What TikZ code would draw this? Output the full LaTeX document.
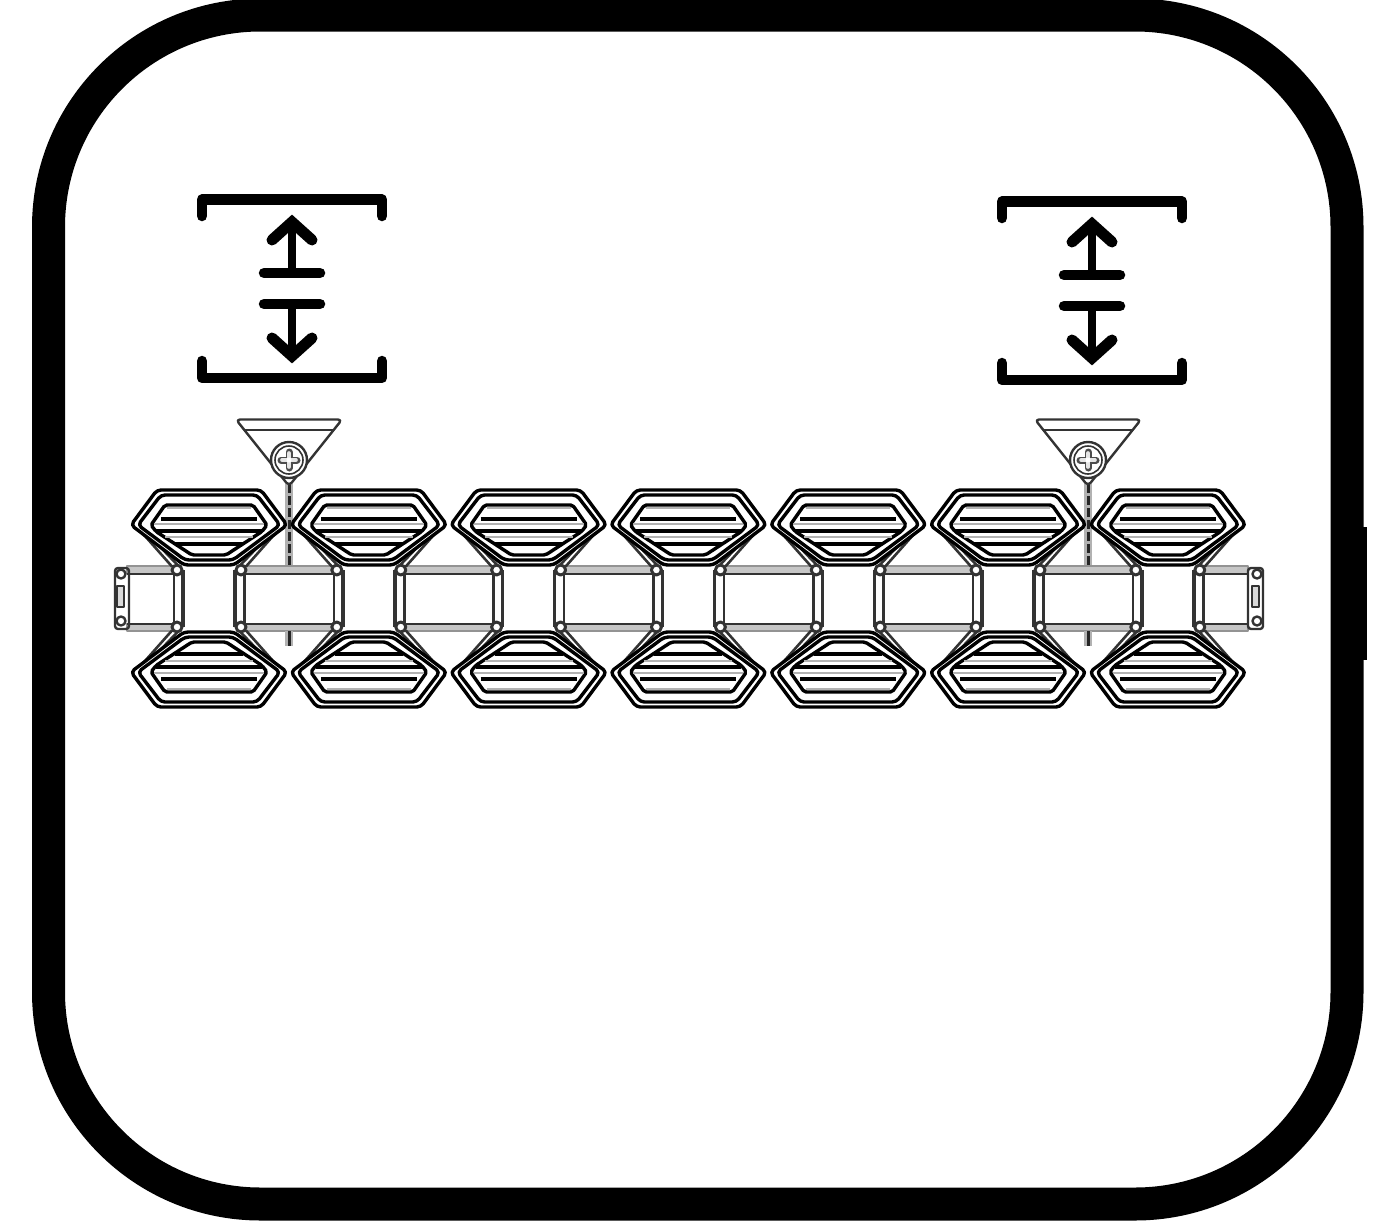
\documentclass[tikz,border=0pt]{standalone}
\begin{document}
\begin{tikzpicture}[
    x=0.02cm, y=-0.02cm,
    line join=round,
    % Styles
    frame/.style={line width=33*0.02cm, black},
    symbol/.style={line width=10.5*0.02cm, line cap=round, black},
    stem/.style={line width=8*0.02cm, line cap=round, black},
    chevron/.style={line width=11*0.02cm, line cap=round, line join=miter, black},
    contour/.style={line width=3.4*0.02cm, black, rounded corners=4*0.02cm},
    slat/.style={line width=4*0.02cm, black},
    thinslat/.style={line width=2*0.02cm, gray!60},
    link/.style={line width=2.6*0.02cm, black!80},
    railband/.style={fill=gray!45, draw=gray!85, line width=1.6*0.02cm},
    hardware/.style={line width=2.4*0.02cm, black!80}
]
\useasboundingbox (0,0) rectangle (1396,1224);

% --- OUTER FRAME ---
\draw[frame, rounded corners=212*0.02cm] (48.5,15) rectangle (1347,1204);
\fill[black] (1355,527) rectangle (1366.5,660);

% --- HEIGHT SYMBOLS ---
\foreach \symx/\symy in {292/0, 1092/2} {
\begin{scope}[shift={(\symx,\symy)}]
    % Brackets
    \draw[symbol] (-90,216) -- (-90,199.5) -- (90,199.5) -- (90,216);
    \draw[symbol] (-90,361) -- (-90,378) -- (90,378) -- (90,361);
    % Bars
    \draw[symbol] (-28,273) -- (28,273);
    \draw[symbol] (-28,304) -- (28,304);
    % Arrows
    \draw[stem] (0,273) -- (0,228);
    \draw[chevron] (-20,240) -- (0,222) -- (20,240);
    \draw[stem] (0,304) -- (0,350);
    \draw[chevron] (-20,338) -- (0,356) -- (20,338);
\end{scope}
}

% --- RAIL ---
\foreach \cx in {209,368.8,528.6,688.4,848.2,1008} {
\begin{scope}[shift={(\cx,598.5)}]
    \draw[railband] (36,-32.5) rectangle (124.8,-25);
    \draw[railband] (36,25) rectangle (124.8,32.5);
    \draw[link, line width=2*0.02cm] (36,-25) -- (124.8,-25);
    \draw[link, line width=2*0.02cm] (36,25) -- (124.8,25);
\end{scope}
}
% Left end of the rail
\draw[railband] (127,566) rectangle (174,573.5);
\draw[railband] (127,623.5) rectangle (174,631);
\draw[link, line width=2*0.02cm] (127,573.5) -- (174,573.5);
\draw[link, line width=2*0.02cm] (127,623.5) -- (174,623.5);
\draw[hardware, rounded corners=3*0.02cm] (115,568) rectangle (129,629);
\draw[hardware, fill=gray!30] (117,586) rectangle (124,607);
\draw[hardware, fill=white] (121,574) circle (4.5);
\draw[hardware, fill=white] (121,621) circle (4.5);
% Right end of the rail
\draw[railband] (1204,566) rectangle (1248,573.5);
\draw[railband] (1204,623.5) rectangle (1248,631);
\draw[link, line width=2*0.02cm] (1204,573.5) -- (1248,573.5);
\draw[link, line width=2*0.02cm] (1204,623.5) -- (1248,623.5);
\draw[hardware, rounded corners=3*0.02cm] (1248,568) rectangle (1263,629);
\draw[hardware, fill=gray!30] (1252,586) rectangle (1259,607);
\draw[hardware, fill=white] (1257,574) circle (4.5);
\draw[hardware, fill=white] (1257,621) circle (4.5);

% --- SCREW BRACKETS ---
\foreach \screwx in {289,1088} {
\begin{scope}[shift={(\screwx,0)}]
    % Stem
    \draw[line width=8*0.02cm, gray!60] (0,484) -- (0,565);
    \draw[line width=3*0.02cm, black!85, dash pattern=on 9*0.02cm off 3*0.02cm] (0,484) -- (0,565);
    \draw[line width=8*0.02cm, gray!60] (0,631) -- (0,646);
    \draw[line width=3*0.02cm, black!85] (0,631) -- (0,646);
    % Triangle
    \draw[hardware, fill=white, rounded corners=4*0.02cm] (-53,419.5) -- (53,419.5) -- (0,486) -- cycle;
    \draw[hardware] (-45,430) -- (45,430);
    % Screw head
    \draw[hardware, fill=white] (0,460) circle (18);
    \draw[hardware, line width=1.6*0.02cm] (0,460) circle (14);
    \draw[line width=7*0.02cm, black!70, line cap=round] (-8,460) -- (8,460);
    \draw[line width=7*0.02cm, black!70, line cap=round] (0,452) -- (0,468);
    \draw[line width=3.6*0.02cm, gray!20, line cap=round] (-7,460) -- (7,460);
    \draw[line width=3.6*0.02cm, gray!20, line cap=round] (0,453) -- (0,467);
    \fill[white] (0,460) circle (2.5);
\end{scope}
}

% --- WHEEL UNITS (upper half, then mirrored) ---
\foreach \cx in {209,368.8,528.6,688.4,848.2,1008,1167.8} {
\foreach \flip in {1,-1} {
\begin{scope}[shift={(\cx,598.5)}, yscale=\flip]
    % Links down to the rail
    \draw[link] (-68,-67) -- (-37,-32);
    \draw[link] (-52,-55) -- (-31,-33);
    \draw[link] (68,-67) -- (37,-32);
    \draw[link] (52,-55) -- (31,-33);
    % Contours
    \draw[contour, fill=white] (-52,-108.5) -- (52,-108.5) -- (78,-73.5) -- (25,-33.5) -- (-25,-33.5) -- (-78,-73.5) -- cycle;
    \draw[contour] (-48,-103.5) -- (48,-103.5) -- (71,-73.5) -- (24,-38.5) -- (-24,-38.5) -- (-71,-73.5) -- cycle;
    \draw[contour, rounded corners=2*0.02cm] (-44,-93.5) -- (44,-93.5) -- (58,-73.5) -- (53,-67) -- (17,-43.5) -- (-17,-43.5) -- (-53,-67) -- (-58,-73.5) -- cycle;
    % Slats
    \draw[thinslat] (-42,-90.5) -- (42,-90.5);
    \draw[slat] (-48,-80) -- (48,-80);
    \draw[thinslat] (-55,-74.5) -- (55,-74.5);
    \draw[slat] (-53,-68) -- (53,-68);
    \draw[thinslat] (-44,-62) -- (44,-62);
    \draw[slat] (-34,-55) -- (34,-55);
    % Nodes on the link ends
    \draw[link] (-35,-28.5) -- (-35,0);
    \draw[link, line width=3.4*0.02cm] (-26,-28.5) -- (-26,0);
    \draw[link, line width=3.4*0.02cm] (26,-28.5) -- (26,0);
    \draw[link] (35.5,-28.5) -- (35.5,0);
    \draw[link, line width=3*0.02cm, fill=white] (-32,-28.5) circle (5);
    \draw[link, line width=3*0.02cm, fill=white] (32,-28.5) circle (5);
\end{scope}
}
}

\end{tikzpicture}
\end{document}
